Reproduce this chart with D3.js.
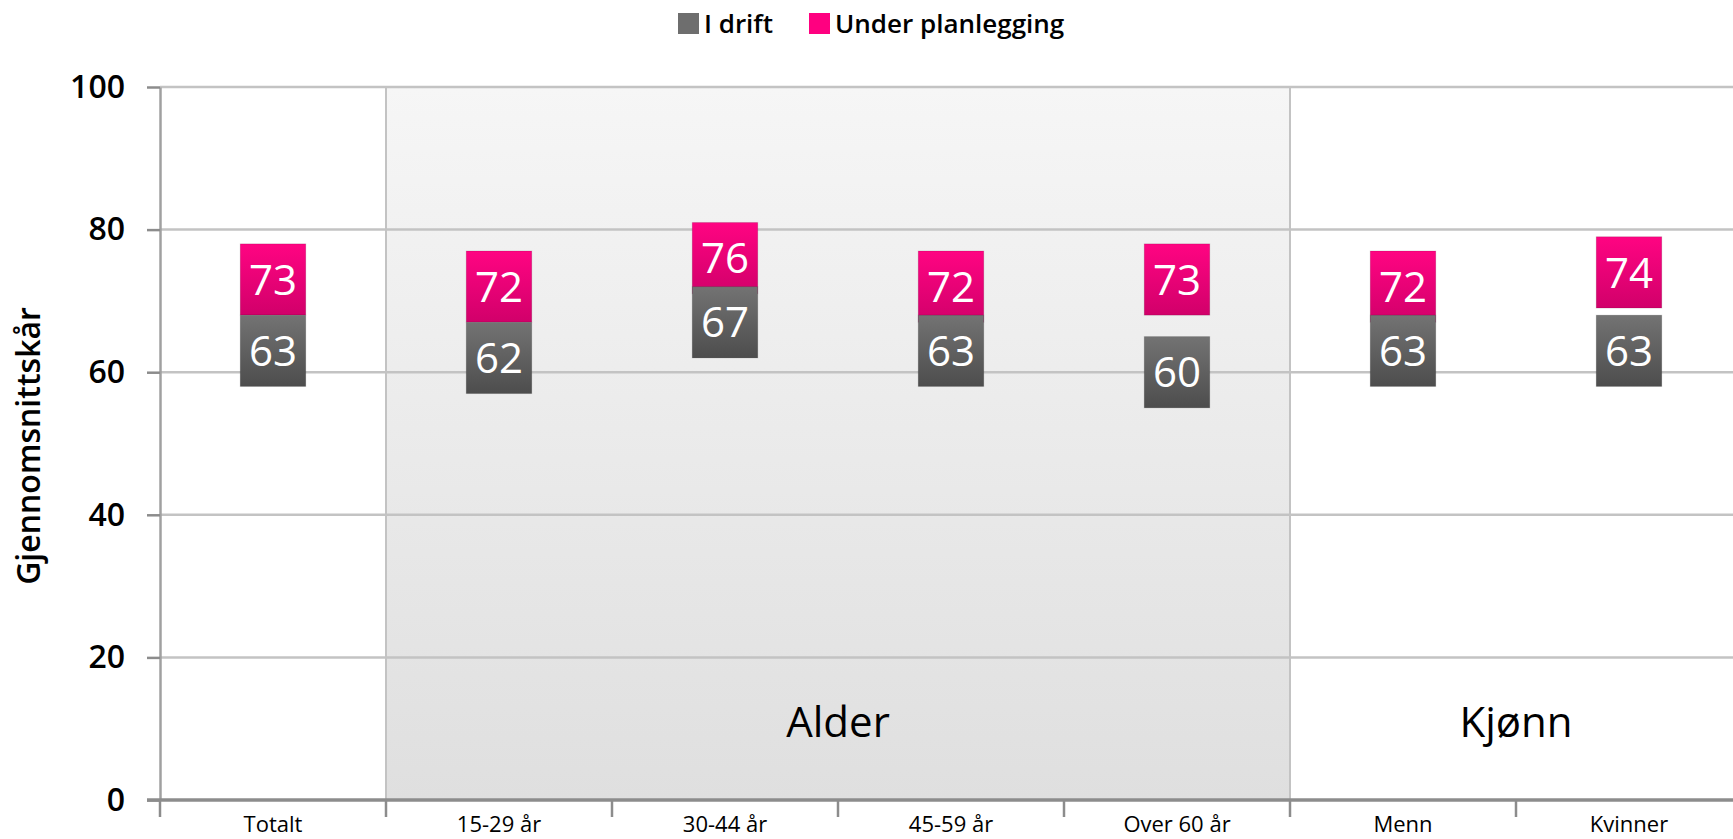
<!DOCTYPE html>
<html>
<head>
<meta charset="utf-8">
<script src="https://cdn.jsdelivr.net/npm/d3@7"></script>
<style>
  html, body { margin: 0; padding: 0; background: #fff; }
  svg { display: block; }
</style>
</head>
<body>
<div id="chart"></div>
<script>
// Average score per group, two series drawn as floating value boxes.
var categories = ["Totalt", "15-29 år", "30-44 år", "45-59 år", "Over 60 år", "Menn", "Kvinner"];
var iDrift     = [63, 62, 67, 63, 60, 63, 63];
var underPlan  = [73, 72, 76, 72, 73, 72, 74];
var yTicks     = [0, 20, 40, 60, 80, 100];
var groups     = [
    { label: "Alder", first: 1, last: 4, shaded: true },
    { label: "Kjønn", first: 5, last: 6, shaded: false }
];
var seriesNames = ["I drift", "Under planlegging"];

var W = 1733, H = 839;
var margin = { top: 87, right: -9, bottom: 39, left: 160 };
var innerW = W - margin.left - margin.right;
var innerH = H - margin.top - margin.bottom;
var FONT = "'Open Sans', 'Noto Sans', sans-serif";
var BOX_HALF = 5;   // each box spans value +/- 5 units

var svg = d3.select('#chart').append('svg')
    .attr('width', W).attr('height', H)
    .attr('viewBox', '0 0 ' + W + ' ' + H);

var defs = svg.append('defs');
function vGrad(id, top, bottom) {
    var lg = defs.append('linearGradient').attr('id', id)
        .attr('x1', 0).attr('y1', 0).attr('x2', 0).attr('y2', 1);
    lg.append('stop').attr('offset', '0%').attr('stop-color', top);
    lg.append('stop').attr('offset', '100%').attr('stop-color', bottom);
}
vGrad('gShade', '#f6f6f6', '#dfdfdf');
vGrad('gPink', '#ff0482', '#d1006a');
vGrad('gGrey', '#737373', '#4d4d4d');

var x = d3.scaleBand().domain(categories).range([0, innerW]);
var y = d3.scaleLinear().domain([0, 100]).range([innerH, 0]);
var bw = x.bandwidth();
var boxW = bw * 0.29;

var g = svg.append('g')
    .attr('transform', 'translate(' + margin.left + ',' + margin.top + ')');

// Group shading
groups.filter(function (d) { return d.shaded; }).forEach(function (d) {
    g.append('rect')
        .attr('x', x(categories[d.first])).attr('y', 0)
        .attr('width', x(categories[d.last]) + bw - x(categories[d.first]))
        .attr('height', innerH)
        .attr('fill', 'url(#gShade)');
});

// Horizontal gridlines
g.append('g').selectAll('line').data(yTicks.filter(function (d) { return d > 0; })).join('line')
    .attr('x1', 0).attr('x2', innerW)
    .attr('y1', function (d) { return y(d); })
    .attr('y2', function (d) { return y(d); })
    .attr('stroke', '#c3c3c3').attr('stroke-width', 2.5);

// Group separators
var seps = groups.map(function (d) { return x(categories[d.first]); });
g.append('g').selectAll('line').data(seps).join('line')
    .attr('x1', function (d) { return d; }).attr('x2', function (d) { return d; })
    .attr('y1', 0).attr('y2', innerH)
    .attr('stroke', '#c3c3c3').attr('stroke-width', 2);

// Group labels
g.append('g').selectAll('text').data(groups).join('text')
    .attr('x', function (d) { return (x(categories[d.first]) + x(categories[d.last]) + bw) / 2; })
    .attr('y', y(8.8))
    .attr('text-anchor', 'middle')
    .attr('font-family', FONT).attr('font-size', 42)
    .attr('fill', '#000')
    .text(function (d) { return d.label; });

// Y axis
var yAxis = d3.axisLeft(y).tickValues(yTicks).tickSize(13).tickSizeOuter(0).tickPadding(22);
var yg = g.append('g').call(yAxis);
yg.select('.domain').attr('stroke', '#a0a0a0').attr('stroke-width', 2.5);
yg.selectAll('.tick line').attr('stroke', '#8c8c8c').attr('stroke-width', 2.5);
yg.selectAll('.tick text')
    .attr('font-family', FONT).attr('font-size', 32).attr('font-weight', 600)
    .attr('fill', '#000');

// X axis baseline and boundary ticks
var bounds = categories.map(function (c) { return x(c); }).concat([innerW]);
g.append('line')
    .attr('x1', -13).attr('x2', innerW)
    .attr('y1', innerH).attr('y2', innerH)
    .attr('stroke', '#8c8c8c').attr('stroke-width', 3.5);
g.append('g').selectAll('line').data(bounds).join('line')
    .attr('x1', function (d) { return d; }).attr('x2', function (d) { return d; })
    .attr('y1', innerH).attr('y2', innerH + 17)
    .attr('stroke', '#8c8c8c').attr('stroke-width', 2.5);
g.append('g').selectAll('text').data(categories).join('text')
    .attr('x', function (d) { return x(d) + bw / 2; })
    .attr('y', innerH + 32)
    .attr('text-anchor', 'middle')
    .attr('font-family', FONT).attr('font-size', 22)
    .attr('fill', '#000')
    .text(function (d) { return d; });

// Value boxes: pink first, grey on top
function drawBoxes(vals, fill, cls) {
    var sg = g.append('g').attr('class', cls);
    sg.selectAll('rect').data(vals).join('rect')
        .attr('x', function (d, i) { return x(categories[i]) + bw / 2 - boxW / 2; })
        .attr('y', function (d) { return y(d + BOX_HALF); })
        .attr('width', boxW)
        .attr('height', function (d) { return y(d - BOX_HALF) - y(d + BOX_HALF); })
        .attr('fill', fill)
        .attr('stroke', 'rgba(0,0,0,0.12)').attr('stroke-width', 1);
    sg.selectAll('text').data(vals).join('text')
        .attr('x', function (d, i) { return x(categories[i]) + bw / 2; })
        .attr('y', function (d) { return y(d); })
        .attr('dy', '0.36em')
        .attr('text-anchor', 'middle')
        .attr('font-family', FONT).attr('font-size', 42)
        .attr('fill', '#fff')
        .text(function (d) { return d; });
}
drawBoxes(underPlan, 'url(#gPink)', 'plan');
drawBoxes(iDrift, 'url(#gGrey)', 'drift');

// Y axis title
svg.append('text')
    .attr('transform', 'translate(40,' + 446 + ') rotate(-90)')
    .attr('text-anchor', 'middle')
    .attr('font-family', FONT).attr('font-size', 32).attr('font-weight', 600)
    .attr('fill', '#000')
    .text('Gjennomsnittskår');

// Legend
var legColors = ['#6e6e6e', '#ff0080'];
var legX = [678, 809];
var leg = svg.append('g').selectAll('g').data(seriesNames).join('g')
    .attr('transform', function (d, i) { return 'translate(' + legX[i] + ',13)'; });
leg.append('rect')
    .attr('width', 21).attr('height', 21)
    .attr('fill', function (d, i) { return legColors[i]; });
leg.append('text')
    .attr('x', 26).attr('y', 20)
    .attr('font-family', FONT).attr('font-size', 26).attr('font-weight', 600)
    .attr('fill', '#000')
    .text(function (d) { return d; });
</script>
</body>
</html>
